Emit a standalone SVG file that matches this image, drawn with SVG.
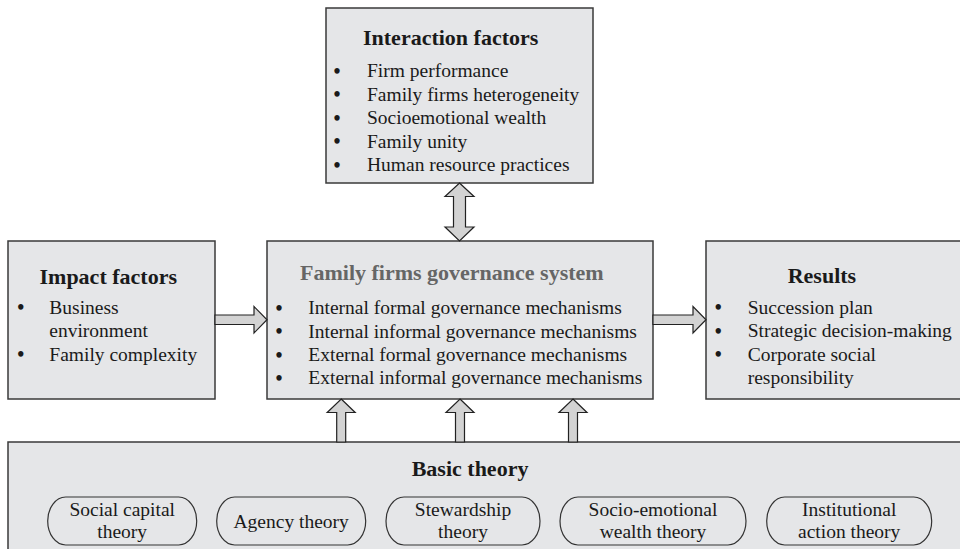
<svg xmlns="http://www.w3.org/2000/svg" width="960" height="549" viewBox="0 0 960 549">
<style>
.box{fill:#e5e6e8;stroke:#3a3a3a;stroke-width:1.5}
.pill{fill:none;stroke:#333;stroke-width:1.2}
.arr{fill:#d3d3d3;stroke:#222;stroke-width:1.2;stroke-linejoin:miter}
text{font-family:"Liberation Serif","Times New Roman",serif;fill:#1a1a1a}
.t{font-size:22px;font-weight:bold}
.b{font-size:19.5px}
.d{font-size:20px;font-weight:bold;text-anchor:middle}
.g{fill:#666}
.c{text-anchor:middle}
</style>
<rect width="960" height="549" fill="#ffffff"/>
<g id="interaction">
<rect class="box" x="326" y="8" width="267" height="175"/>
<text class="t" x="363" y="45">Interaction factors</text>
<text class="d" x="337" y="77.5">•</text><text class="b" x="367" y="77">Firm performance</text>
<text class="d" x="337" y="101">•</text><text class="b" x="367" y="100.5">Family firms heterogeneity</text>
<text class="d" x="337" y="124.5">•</text><text class="b" x="367" y="124">Socioemotional wealth</text>
<text class="d" x="337" y="148">•</text><text class="b" x="367" y="147.5">Family unity</text>
<text class="d" x="337" y="171.5">•</text><text class="b" x="367" y="171">Human resource practices</text>
</g>
<g id="impact">
<rect class="box" x="8" y="241" width="207" height="158"/>
<text class="t" x="39.5" y="283.5">Impact factors</text>
<text class="d" x="20.7" y="314">•</text><text class="b" x="49.3" y="313.5">Business</text>
<text class="b" x="49.3" y="337">environment</text>
<text class="d" x="20.7" y="361">•</text><text class="b" x="49.3" y="360.5">Family complexity</text>
</g>
<g id="governance">
<rect class="box" x="267" y="241" width="386" height="158"/>
<text class="t g" x="300" y="280">Family firms governance  system</text>
<text class="d" x="279" y="314.5">•</text><text class="b" x="308.3" y="314">Internal formal governance mechanisms</text>
<text class="d" x="279" y="338">•</text><text class="b" x="308.3" y="337.5">Internal informal governance mechanisms</text>
<text class="d" x="279" y="361.5">•</text><text class="b" x="308.3" y="361">External formal governance mechanisms</text>
<text class="d" x="279" y="384.5">•</text><text class="b" x="308.3" y="384">External informal governance mechanisms</text>
</g>
<g id="results">
<rect class="box" x="706" y="241" width="262" height="158"/>
<text class="t" x="787.7" y="283">Results</text>
<text class="d" x="718.3" y="314">•</text><text class="b" x="747.7" y="313.5">Succession plan</text>
<text class="d" x="718.3" y="337.5">•</text><text class="b" x="747.7" y="337">Strategic decision-making</text>
<text class="d" x="718.3" y="361">•</text><text class="b" x="747.7" y="360.5">Corporate social</text>
<text class="b" x="747.7" y="384">responsibility</text>
</g>
<g id="basic">
<rect class="box" x="8" y="442" width="962" height="120"/>
<text class="t" x="411.7" y="476">Basic theory</text>
<g id="social-capital">
<rect class="pill" x="47.7" y="497" width="149" height="48" rx="18" ry="24"/>
<text class="b c" x="122.2" y="516">Social capital</text>
<text class="b c" x="122.2" y="538.3">theory</text>
</g>
<g id="agency">
<rect class="pill" x="216.7" y="497" width="149" height="48" rx="18" ry="24"/>
<text class="b c" x="291.2" y="528">Agency theory</text>
</g>
<g id="stewardship">
<rect class="pill" x="386" y="497" width="154" height="48" rx="18" ry="24"/>
<text class="b c" x="463" y="516">Stewardship</text>
<text class="b c" x="463" y="538.3">theory</text>
</g>
<g id="socioemotional">
<rect class="pill" x="560" y="497" width="186" height="48" rx="18" ry="24"/>
<text class="b c" x="653" y="516">Socio-emotional</text>
<text class="b c" x="653" y="538.3">wealth theory</text>
</g>
<g id="institutional">
<rect class="pill" x="766.7" y="497" width="165" height="48" rx="18" ry="24"/>
<text class="b c" x="849.2" y="516">Institutional</text>
<text class="b c" x="849.2" y="538.3">action theory</text>
</g>
</g>
<g id="connectors">
<polygon class="arr" points="215,315 254,315 254,306.5 267,319.75 254,333 254,324.5 215,324.5"/>
<polygon class="arr" points="653,315 693,315 693,306.5 706,319.75 693,333 693,324.5 653,324.5"/>
<polygon class="arr" points="459.5,183 474,196.5 465.5,196.5 465.5,227 474,227 459.5,241 445,227 453.5,227 453.5,196.5 445,196.5"/>
<polygon class="arr" points="341.2,399 355.2,412.5 345.7,412.5 345.7,442 336.7,442 336.7,412.5 327.2,412.5"/>
<polygon class="arr" points="460,399 474,412.5 464.5,412.5 464.5,442 455.5,442 455.5,412.5 446,412.5"/>
<polygon class="arr" points="573,399 587,412.5 577.5,412.5 577.5,442 568.5,442 568.5,412.5 559,412.5"/>
</g>
</svg>
